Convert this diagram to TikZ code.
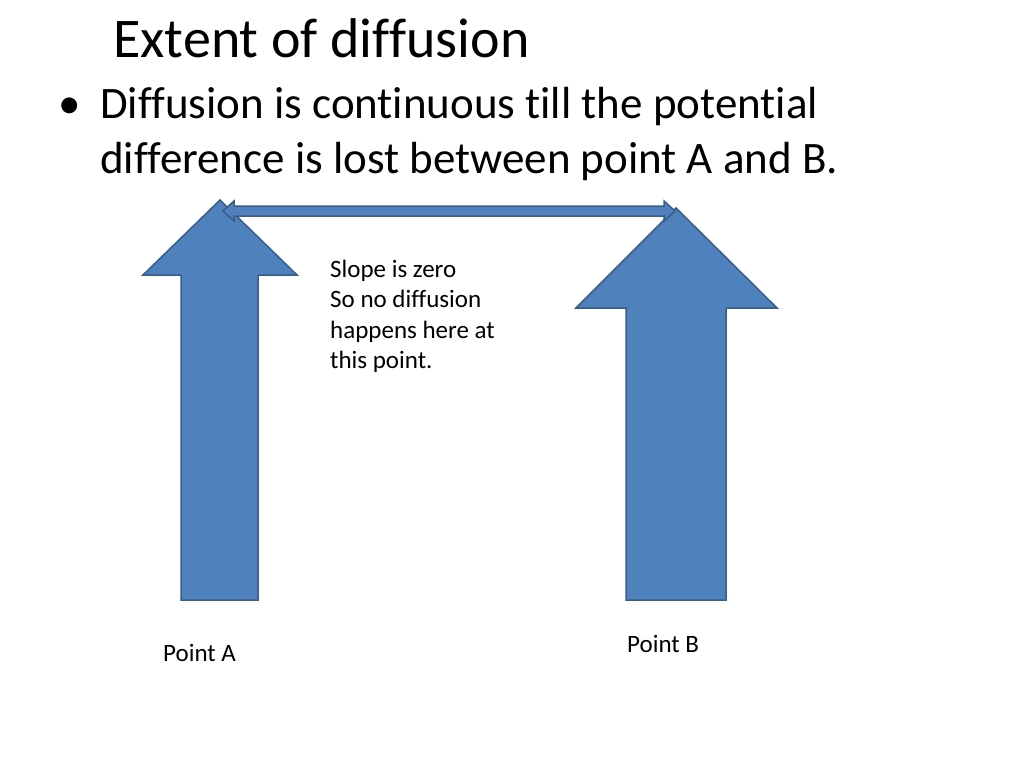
\documentclass[tikz,border=0pt]{standalone}
\usepackage{fontspec}
\setmainfont[Ligatures={NoCommon}]{Carlito}
\begin{document}
\begin{tikzpicture}[x=1pt,y=-1pt,
  blk/.style={fill={rgb,255:red,79;green,129;blue,189},draw={rgb,255:red,56;green,93;blue,138},line width=1.5pt,line join=miter},
  txt/.style={anchor=base west,inner sep=0pt},
  big/.style={txt,font=\fontsize{45}{55}\selectfont},
  sm/.style={txt,font=\fontsize{25}{30}\selectfont}]
\useasboundingbox (0,0) rectangle (1024,768);
\node[txt,font=\fontsize{56}{60}\selectfont] (title) at (113,58) {Extent of diffusion};
\node[big] (dot) at (58,118) {\textbullet};
\node[big] (bul1) at (100,118) {Diffusion is continuous till the potential};
\node[big] (bul2) at (100,173) {difference is lost between point A and B.};
\draw[blk] (220,200) -- (297,275) -- (258,275) -- (258,600) -- (181,600) -- (181,275) -- (143,275) -- cycle;
\draw[blk] (676,208) -- (777,308) -- (726,308) -- (726,600) -- (626,600) -- (626,308) -- (576,308) -- cycle;
\draw[blk] (223,211) -- (234,201) -- (234,206) -- (664,206) -- (664,201) -- (675,211) -- (664,221) -- (664,216) -- (234,216) -- (234,221) -- cycle;
\node[sm] (s1) at (330,277) {Slope is zero};
\node[sm] (s2) at (330,307.5) {So no diffusion};
\node[sm] (s3) at (330,338) {happens here at};
\node[sm] (s4) at (330,368.5) {this point.};
\node[sm] (pa) at (163,661) {Point A};
\node[sm] (pb) at (627,652) {Point B};
\end{tikzpicture}
\end{document}
